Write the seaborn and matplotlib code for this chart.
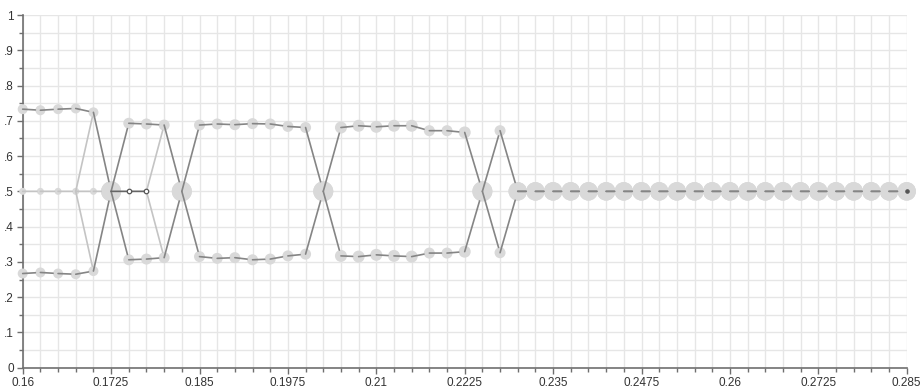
import matplotlib
matplotlib.use('Agg')
import matplotlib.pyplot as plt
from matplotlib.ticker import FixedLocator, MultipleLocator, FuncFormatter
import seaborn as sns
import pandas as pd

# x positions of the samples
x_vals = [0.16, 0.1625, 0.165, 0.1675, 0.17, 0.1725, 0.175, 0.1775, 0.18, 0.1825,
          0.185, 0.1875, 0.19, 0.1925, 0.195, 0.1975, 0.2, 0.2025, 0.205, 0.2075,
          0.21, 0.2125, 0.215, 0.2175, 0.22, 0.2225, 0.225, 0.2275, 0.23, 0.2325,
          0.235, 0.2375, 0.24, 0.2425, 0.245, 0.2475, 0.25, 0.2525, 0.255, 0.2575,
          0.26, 0.2625, 0.265, 0.2675, 0.27, 0.2725, 0.275, 0.2775, 0.28, 0.2825,
          0.285]
x_ticks = [0.16, 0.1725, 0.185, 0.1975, 0.21, 0.2225, 0.235, 0.2475, 0.26, 0.2725, 0.285]

upper = [0.733, 0.730, 0.733, 0.735, 0.724, 0.5, 0.693, 0.691, 0.688, 0.5,
         0.688, 0.691, 0.689, 0.692, 0.691, 0.684, 0.681, 0.5, 0.681, 0.686,
         0.683, 0.686, 0.686, 0.672, 0.672, 0.667, 0.5, 0.672, 0.5, 0.5,
         0.5, 0.5, 0.5, 0.5, 0.5, 0.5, 0.5, 0.5, 0.5, 0.5,
         0.5, 0.5, 0.5, 0.5, 0.5, 0.5, 0.5, 0.5, 0.5, 0.5,
         0.5]
lower = [0.267, 0.270, 0.267, 0.265, 0.274, 0.5, 0.306, 0.308, 0.312, 0.5,
         0.315, 0.310, 0.312, 0.306, 0.308, 0.317, 0.322, 0.5, 0.317, 0.315,
         0.320, 0.317, 0.315, 0.325, 0.325, 0.329, 0.5, 0.326, 0.5, 0.5,
         0.5, 0.5, 0.5, 0.5, 0.5, 0.5, 0.5, 0.5, 0.5, 0.5,
         0.5, 0.5, 0.5, 0.5, 0.5, 0.5, 0.5, 0.5, 0.5, 0.5,
         0.5]
# circle diameters (px) for the upper / lower traces
diam = [10, 10, 10, 10, 10, 20, 11, 11, 11, 20,
        11, 11, 11, 11, 11, 11, 11, 20, 12, 12,
        12, 12, 12, 11, 11, 12, 20, 11, 18.5, 18.5,
        18.5, 18.5, 18.5, 18.5, 18.5, 18.5, 18.5, 18.5, 18.5, 18.5,
        18.5, 18.5, 18.5, 18.5, 18.5, 18.5, 18.5, 18.5, 18.5, 18.5,
        18.5]

# middle branch (before the first split) and the two open markers
mid_x = [0.16, 0.1625, 0.165, 0.1675, 0.17]
mid_y = [0.5, 0.5, 0.5, 0.5, 0.5]
mid_diam = 7
open_x = [0.175, 0.1775]
open_y = [0.5, 0.5]
open_diam = 4.5

DARK = '#858585'
LIGHT = '#c4c4c4'
FILL = '#d9d9d9'
PT = 72 / 100  # px -> pt


def edge(ax, p0, p1, r1, color, lw=1.2):
    # segment from the centre of p0 to the rim of p1
    ax.annotate('', xy=p1, xytext=p0, annotation_clip=False, zorder=4,
                arrowprops=dict(arrowstyle='-', color=color, lw=lw,
                                shrinkA=0, shrinkB=r1 * PT))


sns.set_style('white')
plt.rcParams['font.family'] = ['Liberation Sans', 'DejaVu Sans']

fig = plt.figure(figsize=(9.24, 3.89), dpi=100)
ax = fig.add_axes([22.7 / 924, 1 - 367.7 / 389, 884 / 924, 352.7 / 389])

df = pd.DataFrame({'x': x_vals * 2, 'y': upper + lower,
                   's': [(d * PT) ** 2 for d in diam * 2]})
sns.scatterplot(data=df, x='x', y='y', s=df['s'], color=FILL, edgecolor='none',
                linewidth=0, ax=ax, clip_on=False, zorder=3, legend=False)
sns.scatterplot(x=mid_x, y=mid_y, s=(mid_diam * PT) ** 2, color=FILL,
                edgecolor='none', linewidth=0, ax=ax, clip_on=False, zorder=3)

# traces
for trace in (upper, lower):
    for i in range(len(x_vals) - 1):
        edge(ax, (x_vals[i], trace[i]), (x_vals[i + 1], trace[i + 1]),
             diam[i + 1] / 2, DARK)

# light middle branch
for i in range(len(mid_x) - 1):
    edge(ax, (mid_x[i], mid_y[i]), (mid_x[i + 1], mid_y[i + 1]), mid_diam / 2, LIGHT)
edge(ax, (mid_x[-1], mid_y[-1]), (x_vals[5], upper[5]), diam[5] / 2, LIGHT)
for trace in (upper, lower):
    edge(ax, (mid_x[3], mid_y[3]), (x_vals[4], trace[4]), diam[4] / 2, LIGHT)
    edge(ax, (open_x[1], open_y[1]), (x_vals[8], trace[8]), diam[8] / 2, LIGHT)

# dark short branch with open markers
edge(ax, (x_vals[5], upper[5]), (open_x[0], open_y[0]), open_diam / 2, '#666666')
edge(ax, (open_x[0], open_y[0]), (open_x[1], open_y[1]), open_diam / 2, '#666666')
ax.scatter(open_x, open_y, s=(open_diam * PT) ** 2, facecolor='white',
           edgecolor='#555555', linewidth=0.9, zorder=5, clip_on=False)

# end marker
ax.scatter([x_vals[-1]], [upper[-1]], s=(3.2 * PT) ** 2, color='#555555',
           zorder=5, clip_on=False)

ax.set_xlim(0.16, 0.285)
ax.set_ylim(0, 1)
ax.xaxis.set_major_locator(FixedLocator(x_ticks))
ax.xaxis.set_minor_locator(FixedLocator(x_vals))
ax.yaxis.set_major_locator(MultipleLocator(0.1))
ax.yaxis.set_minor_locator(MultipleLocator(0.05))
ax.xaxis.set_major_formatter(FuncFormatter(lambda v, p: '%g' % round(v, 4)))


def yfmt(v, p):
    v = round(v, 2)
    if v == 0:
        return '0'
    if v == 1:
        return '1'
    return ('%g' % v).lstrip('0')


ax.yaxis.set_major_formatter(FuncFormatter(yfmt))
ax.grid(which='both', color='#e6e6e6', lw=1.0)
ax.set_axisbelow(True)
for s in ('top', 'right'):
    ax.spines[s].set_visible(False)
for s in ('left', 'bottom'):
    ax.spines[s].set_color('#6f6f6f')
    ax.spines[s].set_linewidth(1.2)
ax.tick_params(which='major', length=4, width=1, color='#6f6f6f',
               labelsize=8.5, labelcolor='#333333', pad=2.5, left=True, bottom=True)
ax.tick_params(which='minor', length=3, width=1, color='#6f6f6f', left=True, bottom=True)
ax.set_xlabel('')
ax.set_ylabel('')

fig.savefig('out.png', dpi=100)
